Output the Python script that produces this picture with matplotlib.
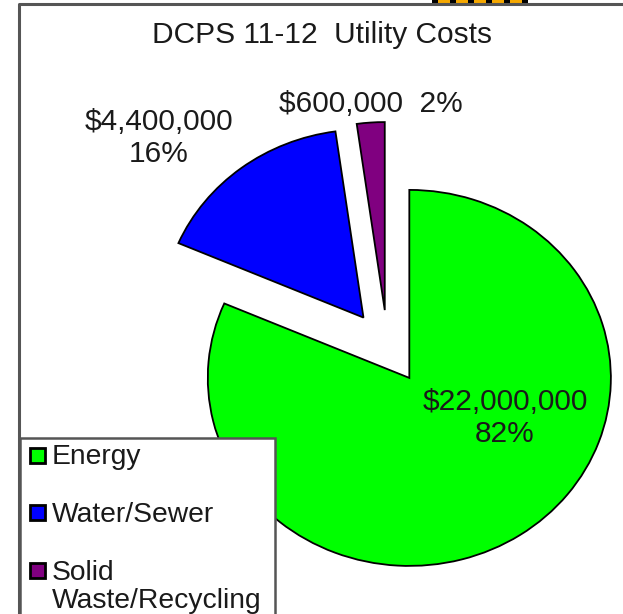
import matplotlib.pyplot as plt
from matplotlib.patches import Rectangle
from matplotlib.lines import Line2D
from matplotlib.transforms import Affine2D

categories = ["Energy", "Water/Sewer", "Solid\nWaste/Recycling"]
costs = [22000000, 4400000, 600000]
pct = [82, 16, 2]
colors = ["#00FF00", "#0000FF", "#800080"]

plt.rcParams['font.family'] = ['Liberation Sans', 'DejaVu Sans']
txt = "#1a1a1a"

W, H = 623, 614
sx = 1.072  # the original picture is a bit stretched sideways
fig = plt.figure(figsize=(W / 100, H / 100), dpi=100)
ax = fig.add_axes([0, 0, 1, 1])

# pie, all slices pulled apart a bit, clockwise from the top
ax.pie(costs, colors=colors, startangle=90, counterclock=False,
       explode=[37, 37, 37], center=(361.5, H - 347), radius=188,
       wedgeprops=dict(edgecolor="black", linewidth=1.3))
ax.set_xlim(0, W / sx)
ax.set_ylim(0, H)
ax.set_aspect("auto")
ax.axis("off")

# pixel coords, origin top-left, for everything that isn't the pie
pix = Affine2D().scale(1 / W, -1 / H).translate(0, 1) + fig.transFigure

fs = 21.5
ax.text(505, 418, "${:,}\n{}%".format(costs[0], pct[0]), ha="center", va="center",
        fontsize=fs, color=txt, linespacing=1.15, transform=pix)
ax.text(159, 138, "${:,}\n{}%".format(costs[1], pct[1]), ha="center", va="center",
        fontsize=fs, color=txt, linespacing=1.15, transform=pix)
ax.text(371, 104, "${:,}  {}%".format(costs[2], pct[2]), ha="center", va="center",
        fontsize=fs, color=txt, transform=pix)

ax.text(322, 35, "DCPS 11-12  Utility Costs", ha="center", va="center",
        fontsize=fs, color=txt, transform=pix)

# outer border (only top and left visible)
ax.add_line(Line2D([19, 19, W], [H, 4, 4], color="#555555", linewidth=2.2, transform=pix))

# striped bit peeking in at the top
ax.add_patch(Rectangle((432, 0), 93, 3.5, facecolor="#F5A800", edgecolor="none", transform=pix))
for x0 in range(432, 525, 18):
    ax.add_patch(Rectangle((x0, 0), 6, 3.5, facecolor="black", edgecolor="none", transform=pix))

# legend box, runs off the bottom
ax.add_patch(Rectangle((20, 438), 255, 200, facecolor="white", edgecolor="#555555",
                       linewidth=1.8, zorder=5, transform=pix))
ys = [455.5, 512.5, 570.5]
for lab, col, y in zip(categories, colors, ys):
    ax.add_patch(Rectangle((30, y - 7.5), 15, 15, facecolor=col, edgecolor="black",
                           linewidth=2, zorder=6, transform=pix))
    ax.text(52, y - 11, lab, ha="left", va="top", fontsize=20.3, color=txt,
            zorder=7, linespacing=1.15, transform=pix)

fig.savefig("out.png", dpi=100)
